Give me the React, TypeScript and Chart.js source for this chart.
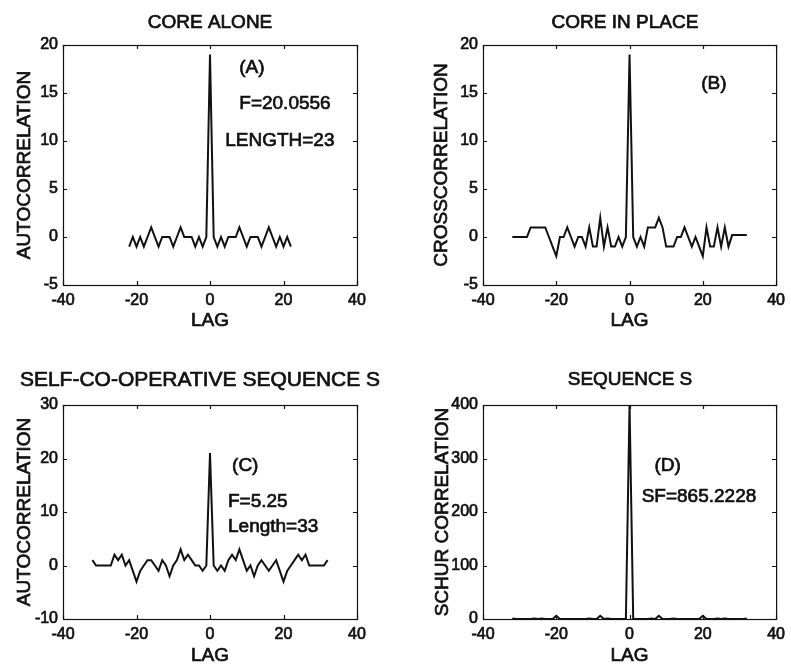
import React, { useEffect, useRef } from "react";
import { Chart, registerables } from "chart.js";
Chart.register(...registerables);

const FONT = "'Liberation Sans', Arial, sans-serif";
const INK = "#111";

// ---- Data ----
const lagsA = [-22, -21, -20, -19, -18, -17, -16, -15, -14, -13, -12, -11, -10, -9, -8, -7, -6, -5, -4, -3, -2, -1, 0, 1, 2, 3, 4, 5, 6, 7, 8, 9, 10, 11, 12, 13, 14, 15, 16, 17, 18, 19, 20, 21, 22];
const autoA = [-1, 0, -1, 0, -1, 0, 1, 0, -1, 0, 0, 0, -1, 0, 1, 0, 0, 0, -1, 0, -1, 0, 19, 0, -1, 0, -1, 0, 0, 0, 1, 0, -1, 0, 0, 0, -1, 0, 1, 0, -1, 0, -1, 0, -1];

const lags33 = [-32, -31, -30, -29, -28, -27, -26, -25, -24, -23, -22, -21, -20, -19, -18, -17, -16, -15, -14, -13, -12, -11, -10, -9, -8, -7, -6, -5, -4, -3, -2, -1, 0, 1, 2, 3, 4, 5, 6, 7, 8, 9, 10, 11, 12, 13, 14, 15, 16, 17, 18, 19, 20, 21, 22, 23, 24, 25, 26, 27, 28, 29, 30, 31, 32];
const crossB = [0, 0, 0, 0, 0, 1, 1, 1, 1, 1, 0, -1, -2, 0, 0, 1, 0, -1, 0, 0, -1, 1, -1, -1, 2, -1, 1, -1, -1, 0, -1, 0, 19, 0, -1, 0, -1, 1, 1, 1, 2, 1, -1, -1, -1, 0, 0, 1, 0, -1, 0, -1, -2, 1, -1, -1, 1, -1, 1, -1, 0.2, 0.2, 0.2, 0.2, 0.2];
const autoC = [1, 0, 0, 0, 0, 0, 2, 1, 2, 0, 1, -1, -3, -1, 0, 1, 1, 0, -1, 1, 0, -2, 0, 1, 3, 1, 2, 1, 0, 0, -1, 0, 21, 0, -1, 0, -1, 1, 2, 1, 3, 1, -1, 0, -2, 0, 1, 0, -1, 0, 1, -1, -3, -1, 0, 1, 2, 1, 2, 0, 0, 0, 0, 0, 1];
const schurD = [1, 0, 0, 0, 0, 0, 1, 0, 1, 0, 0, 0, 6, 0, 0, 0, 0, 0, 0, 0, 0, 1, 0, 0, 6, 0, 1, 0, 0, 0, 0, 0, 400, 0, 0, 0, 0, 0, 1, 0, 6, 0, 0, 0, 1, 0, 0, 0, 0, 0, 0, 0, 6, 0, 0, 0, 1, 0, 1, 0, 0, 0, 0, 0, 1];

const xTicks = [-40, -20, 0, 20, 40];

type Note = { text: string; x: number; y: number; align: CanvasTextAlign };
type PanelCfg = {
  left: number; top: number; width: number; height: number;
  area: { l: number; r: number; t: number; b: number };
  title: string; titleX: number; titleY: number; titleSize: number;
  yTitle: string; yTitleX: number;
  lagY: number;
  lags: number[]; values: number[];
  yMin: number; yMax: number; yStep: number;
  notes: Note[];
};

function heavyText(ctx: CanvasRenderingContext2D, t: string, x: number, y: number) {
  ctx.fillText(t, x, y);
  ctx.strokeText(t, x, y);
}

const framePlugin = {
  id: "frame",
  afterDraw(chart: any, _args: any, opts: any) {
    const { ctx, chartArea: a, scales } = chart;
    ctx.save();
    ctx.strokeStyle = INK;
    ctx.lineWidth = 1.2;
    ctx.strokeRect(a.left + 0.5, a.top + 0.5, a.right - a.left, a.bottom - a.top);
    const tl = 4;
    ctx.beginPath();
    for (const t of scales.x.ticks) {
      const px = Math.round(scales.x.getPixelForValue(t.value)) + 0.5;
      ctx.moveTo(px, a.bottom); ctx.lineTo(px, a.bottom - tl);
      ctx.moveTo(px, a.top); ctx.lineTo(px, a.top + tl);
    }
    for (const t of scales.y.ticks) {
      const py = Math.round(scales.y.getPixelForValue(t.value)) + 0.5;
      ctx.moveTo(a.left, py); ctx.lineTo(a.left + tl, py);
      ctx.moveTo(a.right, py); ctx.lineTo(a.right - tl, py);
    }
    ctx.stroke();
    ctx.fillStyle = INK;
    ctx.lineWidth = 0.7;
    ctx.textBaseline = "middle";
    ctx.textAlign = "center";
    ctx.font = `${opts.titleSize}px ${FONT}`;
    heavyText(ctx, opts.title, opts.titleX, opts.titleY);
    ctx.font = `19px ${FONT}`;
    heavyText(ctx, "LAG", (a.left + a.right) / 2, opts.lagY);
    ctx.save();
    ctx.translate(opts.yTitleX, (a.top + a.bottom) / 2);
    ctx.rotate(-Math.PI / 2);
    heavyText(ctx, opts.yTitle, 0, 0);
    ctx.restore();
    for (const n of opts.notes as Note[]) {
      ctx.textAlign = n.align;
      heavyText(ctx, n.text, scales.x.getPixelForValue(n.x), scales.y.getPixelForValue(n.y));
    }
    ctx.restore();
  },
};

function Panel({ cfg }: { cfg: PanelCfg }) {
  const ref = useRef<HTMLCanvasElement>(null);
  useEffect(() => {
    const c = cfg;
    const tickFont = { family: FONT, size: 16 };
    const chart = new Chart(ref.current!, {
      type: "line",
      data: {
        datasets: [{
          data: c.lags.map((x, i) => ({ x, y: c.values[i] })),
          borderColor: INK,
          borderWidth: 2,
          pointRadius: 0,
          tension: 0,
          fill: false,
        }],
      },
      options: {
        responsive: false,
        animation: false,
        events: [],
        layout: { padding: { left: 0, top: c.area.t, right: c.width - c.area.r, bottom: 0 } },
        plugins: {
          legend: { display: false },
          tooltip: { enabled: false },
          frame: {
            title: c.title, titleX: c.titleX, titleY: c.titleY, titleSize: c.titleSize,
            yTitle: c.yTitle, yTitleX: c.yTitleX, lagY: c.lagY, notes: c.notes,
          },
        } as any,
        scales: {
          x: {
            type: "linear",
            min: xTicks[0], max: xTicks[xTicks.length - 1],
            afterBuildTicks: (s: any) => { s.ticks = xTicks.map((v) => ({ value: v })); },
            afterFit: (s: any) => { s.height = c.height - c.area.b; },
            grid: { display: false, drawTicks: false },
            border: { display: false },
            ticks: {
              color: INK, font: tickFont, padding: 6, maxRotation: 0, autoSkip: false,
              textStrokeColor: INK, textStrokeWidth: 0.7,
            },
          },
          y: {
            type: "linear",
            min: c.yMin, max: c.yMax,
            ticks: {
              stepSize: c.yStep, color: INK, font: tickFont, padding: 5,
              textStrokeColor: INK, textStrokeWidth: 0.7,
            },
            afterFit: (s: any) => { s.width = c.area.l; },
            grid: { display: false, drawTicks: false },
            border: { display: false },
          },
        },
      },
      plugins: [framePlugin],
    });
    return () => chart.destroy();
  }, [cfg]);
  return (
    <canvas
      ref={ref}
      width={cfg.width}
      height={cfg.height}
      style={{ position: "absolute", left: cfg.left, top: cfg.top, width: cfg.width, height: cfg.height }}
    />
  );
}

const panels: PanelCfg[] = [
  {
    left: 0, top: 0, width: 395, height: 333,
    area: { l: 63, r: 357, t: 45, b: 285 },
    title: "CORE ALONE", titleX: 210, titleY: 23, titleSize: 19,
    yTitle: "AUTOCORRELATION", yTitleX: 25, lagY: 321,
    lags: lagsA, values: autoA, yMin: -5, yMax: 20, yStep: 5,
    notes: [
      { text: "(A)", x: 11.4, y: 17.6, align: "center" },
      { text: "F=20.0556", x: 20.4, y: 13.9, align: "center" },
      { text: "LENGTH=23", x: 19, y: 10, align: "center" },
    ],
  },
  {
    left: 395, top: 0, width: 396, height: 333,
    area: { l: 88, r: 382, t: 45, b: 285 },
    title: "CORE IN PLACE", titleX: 230, titleY: 23, titleSize: 19,
    yTitle: "CROSSCORRELATION", yTitleX: 47, lagY: 321,
    lags: lags33, values: crossB, yMin: -5, yMax: 20, yStep: 5,
    notes: [{ text: "(B)", x: 23, y: 16, align: "center" }],
  },
  {
    left: 0, top: 333, width: 395, height: 334,
    area: { l: 63, r: 357, t: 72, b: 286 },
    title: "SELF-CO-OPERATIVE SEQUENCE S", titleX: 200, titleY: 47, titleSize: 21,
    yTitle: "AUTOCORRELATION", yTitleX: 25, lagY: 323,
    lags: lags33, values: autoC, yMin: -10, yMax: 30, yStep: 10,
    notes: [
      { text: "(C)", x: 6, y: 18.7, align: "left" },
      { text: "F=5.25", x: 4.9, y: 12, align: "left" },
      { text: "Length=33", x: 4.9, y: 7.2, align: "left" },
    ],
  },
  {
    left: 395, top: 333, width: 396, height: 334,
    area: { l: 88, r: 382, t: 72, b: 286 },
    title: "SEQUENCE S", titleX: 235, titleY: 47, titleSize: 19,
    yTitle: "SCHUR CORRELATION", yTitleX: 48, lagY: 323,
    lags: lags33, values: schurD, yMin: 0, yMax: 400, yStep: 100,
    notes: [
      { text: "(D)", x: 6.8, y: 287, align: "left" },
      { text: "SF=865.2228", x: 3.3, y: 228, align: "left" },
    ],
  },
];

export default function App() {
  return (
    <div style={{ position: "fixed", left: 0, top: 0, width: 791, height: 667, background: "#fff" }}>
      {panels.map((p, i) => <Panel key={i} cfg={p} />)}
    </div>
  );
}
